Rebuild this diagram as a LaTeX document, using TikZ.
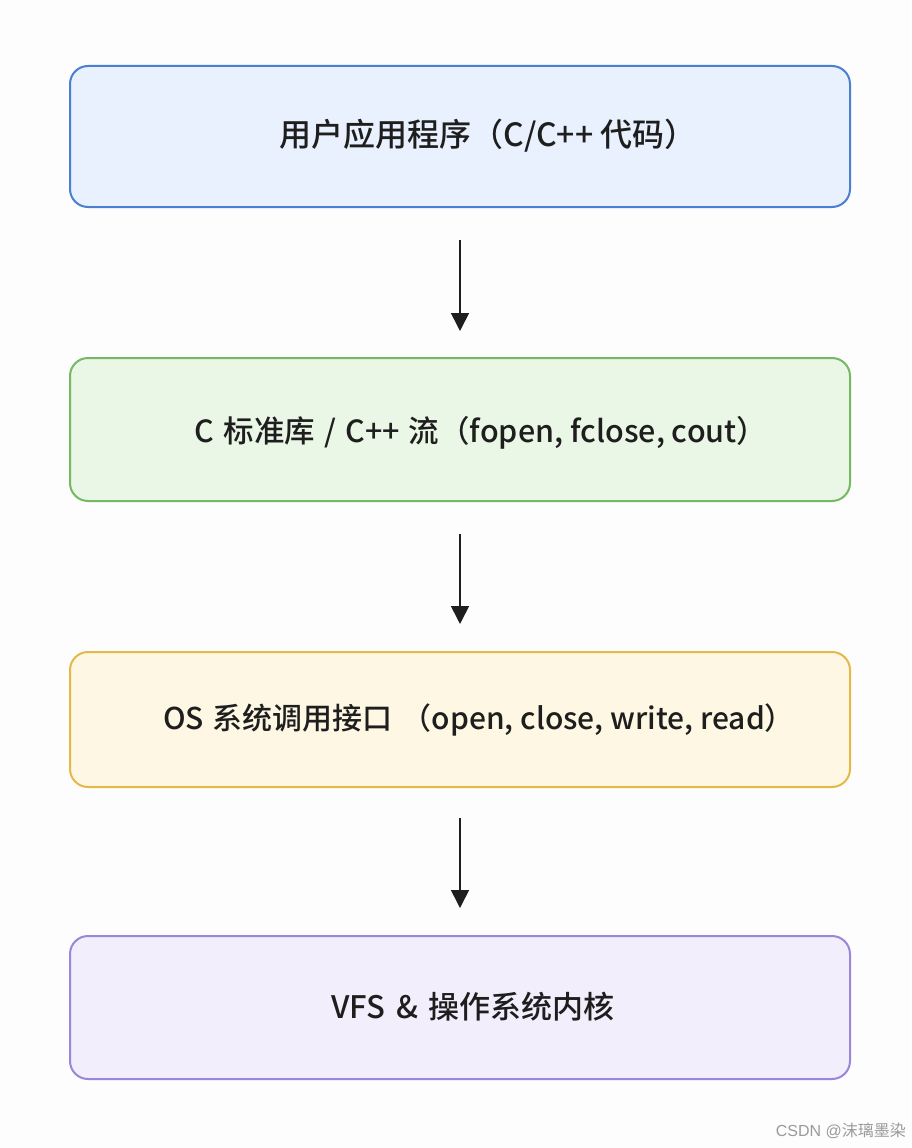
\documentclass[tikz,border=0pt]{standalone}
\usepackage{fontspec}
\setmainfont{Noto Sans CJK SC}[UprightFont=* Medium]
\newfontfamily\wmcjk{Noto Sans CJK SC}
\newfontfamily\wmlat{Liberation Sans}
\usetikzlibrary{arrows.meta}
\definecolor{bgc}{HTML}{FDFDFD}
\definecolor{bluefill}{HTML}{E8F1FD}
\definecolor{blueline}{HTML}{4A7FD4}
\definecolor{greenfill}{HTML}{EAF6E6}
\definecolor{greenline}{HTML}{76B965}
\definecolor{yellowfill}{HTML}{FDF7E4}
\definecolor{yellowline}{HTML}{E4B94A}
\definecolor{purplefill}{HTML}{F2EEFC}
\definecolor{purpleline}{HTML}{9A86DA}
\definecolor{txt}{HTML}{1E1E1E}
\definecolor{wm}{HTML}{9A9A9A}
\begin{document}
\begin{tikzpicture}[x=1pt,y=-1pt,
  layerbox/.style={rounded corners=18pt,line width=2pt},
  layertext/.style={text=txt,inner sep=0pt},
  flowarrow/.style={line width=1.6pt,draw=txt,-{Triangle[length=18pt,width=18pt]}}]
\fill[bgc] (0,0) rectangle (911,1148);
\useasboundingbox (0,0) rectangle (911,1148);
% boxes
\draw[layerbox,fill=bluefill,draw=blueline] (70,66) rectangle (850,207);
\draw[layerbox,fill=greenfill,draw=greenline] (70,358) rectangle (850,501);
\draw[layerbox,fill=yellowfill,draw=yellowline] (70,652) rectangle (850,787);
\draw[layerbox,fill=purplefill,draw=purpleline] (70,936) rectangle (850,1079);
% texts
\node[layertext,font=\fontsize{32}{38}\selectfont] (t1) at (488,136) {用户应用程序（C/C++ 代码）};
\node[layertext,font=\fontsize{30.5}{36}\selectfont] (t2) at (481,433) {C\hspace{0.3em}标准库\hspace{0.3em}/\hspace{0.3em}C++\hspace{0.3em}流（fopen, fclose, cout）};
\node[layertext,font=\fontsize{30}{36}\selectfont] (t3) at (479,720) {OS\hspace{0.3em}系统调用接口\hspace{0.3em}（open, close, write, read）};
\node[layertext,font=\fontsize{31}{37}\selectfont] (t4) at (473,1007) {VFS\hspace{0.35em}\&\hspace{0.35em}操作系统内核};
% arrow anchors
\coordinate (a1s) at (460,240);
\coordinate (a1e) at (460,331);
\coordinate (a2s) at (460,534);
\coordinate (a2e) at (460,624);
\coordinate (a3s) at (460,818);
\coordinate (a3e) at (460,908);
\draw[flowarrow] (a1s) -- (a1e);
\draw[flowarrow] (a2s) -- (a2e);
\draw[flowarrow] (a3s) -- (a3e);
% watermark
\node[font=\fontsize{16}{19}\selectfont,text=wm,anchor=east,inner sep=0pt] (wmk) at (906,1131) {\wmlat CSDN @\wmcjk 沫璃墨染};
\end{tikzpicture}
\end{document}
